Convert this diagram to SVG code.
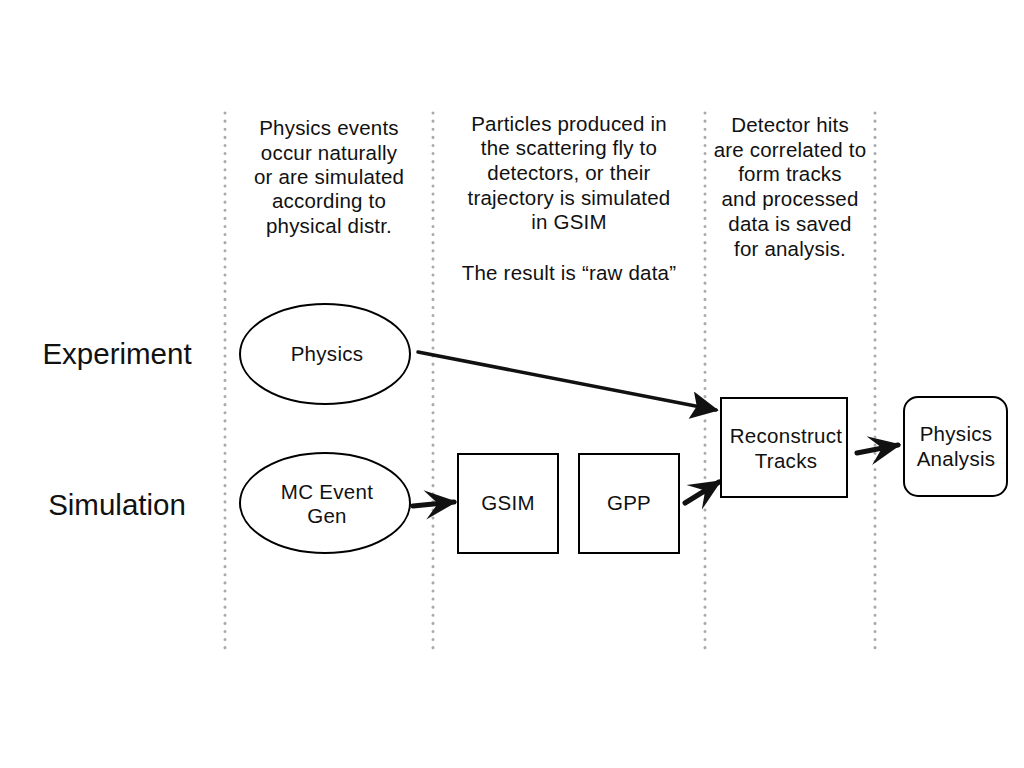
<svg xmlns="http://www.w3.org/2000/svg" width="1024" height="768" viewBox="0 0 1024 768">
<defs>
<style>
.t{font-family:"Liberation Sans",Arial,sans-serif;fill:#111;text-anchor:middle}
.col{font-size:20.5px;letter-spacing:0.2px}
.lab{font-size:29.5px}
.node{font-size:20.5px;letter-spacing:0.3px}
.dot{stroke:#aaa;stroke-width:3;stroke-dasharray:0.1 8;stroke-linecap:round;fill:none}
.shape{fill:#fff;stroke:#000;stroke-width:2}
.arr{stroke:#111;fill:none;stroke-linecap:round}
</style>
<marker id="big" viewBox="0 0 10 10" refX="9" refY="5" markerWidth="8" markerHeight="8" markerUnits="strokeWidth" orient="auto">
<path d="M0,0 L10,5 L0,10 L2,5 Z" fill="#111"/>
</marker>
<marker id="chev" viewBox="0 0 10 10" refX="9" refY="5" markerWidth="6.5" markerHeight="6.5" markerUnits="strokeWidth" orient="auto">
<path d="M0,0.5 L10,5 L0,9.5 L4,5 Z" fill="#111"/>
</marker>
</defs>
<rect width="1024" height="768" fill="#fff"/>
<g id="dividers">
<line class="dot" x1="225" y1="113" x2="225" y2="655"/>
<line class="dot" x1="433" y1="113" x2="433" y2="655"/>
<line class="dot" x1="705" y1="113" x2="705" y2="655"/>
<line class="dot" x1="875" y1="113" x2="875" y2="655"/>
</g>
<g id="descriptions" class="t col">
<text x="329" y="135">Physics events</text>
<text x="329" y="160">occur naturally</text>
<text x="329" y="184">or are simulated</text>
<text x="329" y="208">according to</text>
<text x="329" y="233">physical distr.</text>
<text x="569" y="131">Particles produced in</text>
<text x="569" y="155">the scattering fly to</text>
<text x="569" y="180">detectors, or their</text>
<text x="569" y="205">trajectory is simulated</text>
<text x="569" y="229">in GSIM</text>
<text x="569" y="280">The result is “raw data”</text>
<text x="790" y="132">Detector hits</text>
<text x="790" y="157">are correlated to</text>
<text x="790" y="181">form tracks</text>
<text x="790" y="206">and processed</text>
<text x="790" y="231">data is saved</text>
<text x="790" y="256">for analysis.</text>
</g>
<g id="rowlabels" class="t lab">
<text x="117" y="364">Experiment</text>
<text x="117" y="515">Simulation</text>
</g>
<g id="connectors">
<line class="arr" style="stroke-width:3.5" x1="418" y1="352" x2="716" y2="410" marker-end="url(#big)"/>
<line class="arr" style="stroke-width:5" x1="413" y1="506" x2="454" y2="502" marker-end="url(#chev)"/>
<line class="arr" style="stroke-width:5" x1="685" y1="503" x2="719" y2="482" marker-end="url(#chev)"/>
<line class="arr" style="stroke-width:5" x1="857" y1="453" x2="898" y2="445" marker-end="url(#chev)"/>
</g>
<g id="physics">
<ellipse class="shape" cx="325" cy="354" rx="85" ry="50"/>
<text class="t node" x="327" y="361">Physics</text>
</g>
<g id="mcevent">
<ellipse class="shape" cx="325" cy="503" rx="85" ry="50"/>
<text class="t node" x="327" y="499">MC Event</text>
<text class="t node" x="327" y="523">Gen</text>
</g>
<g id="gsim">
<rect class="shape" x="458" y="454" width="100" height="99"/>
<text class="t node" x="508" y="510">GSIM</text>
</g>
<g id="gpp">
<rect class="shape" x="579" y="454" width="100" height="99"/>
<text class="t node" x="629" y="510">GPP</text>
</g>
<g id="reconstruct">
<rect class="shape" x="721" y="398" width="126" height="99"/>
<text class="t node" x="786" y="443">Reconstruct</text>
<text class="t node" x="786" y="468">Tracks</text>
</g>
<g id="analysis">
<rect class="shape" x="904" y="397" width="103" height="99" rx="14"/>
<text class="t node" x="956" y="441">Physics</text>
<text class="t node" x="956" y="466">Analysis</text>
</g>
</svg>
